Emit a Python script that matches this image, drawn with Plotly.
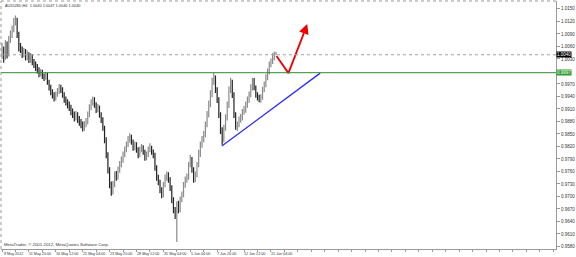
import plotly.graph_objects as go

# ---------------- data (AUDUSD, H4) ----------------
bar_index = list(range(164))

opens = [1.0040, 1.0052, 1.0033, 1.0064, 1.0040, 1.0076, 1.0088, 1.0100, 1.0119, 1.0124,
         1.0088, 1.0057, 1.0052, 1.0040, 1.0047, 1.0033, 1.0040, 1.0028, 1.0035, 1.0023,
         1.0016, 1.0009, 1.0004, 0.9994, 0.9999, 0.9990, 0.9985, 0.9992, 0.9975, 0.9961,
         0.9951, 0.9944, 0.9937, 0.9944, 0.9951, 0.9961, 0.9956, 0.9944, 0.9932, 0.9925,
         0.9920, 0.9913, 0.9903, 0.9896, 0.9889, 0.9896, 0.9884, 0.9879, 0.9872, 0.9865,
         0.9872, 0.9879, 0.9896, 0.9913, 0.9925, 0.9932, 0.9920, 0.9908, 0.9913, 0.9896,
         0.9884, 0.9865, 0.9836, 0.9800, 0.9764, 0.9728, 0.9711, 0.9728, 0.9752, 0.9745,
         0.9764, 0.9776, 0.9788, 0.9800, 0.9812, 0.9824, 0.9836, 0.9841, 0.9831, 0.9817,
         0.9824, 0.9812, 0.9800, 0.9812, 0.9817, 0.9807, 0.9793, 0.9800, 0.9812, 0.9817,
         0.9807, 0.9800, 0.9769, 0.9745, 0.9735, 0.9716, 0.9704, 0.9728, 0.9745, 0.9752,
         0.9740, 0.9721, 0.9692, 0.9668, 0.9656, 0.9680, 0.9668, 0.9692, 0.9704, 0.9728,
         0.9740, 0.9745, 0.9776, 0.9788, 0.9764, 0.9740, 0.9752, 0.9776, 0.9800, 0.9824,
         0.9836, 0.9848, 0.9872, 0.9896, 0.9920, 0.9944, 0.9975, 0.9985, 0.9956, 0.9932,
         0.9896, 0.9860, 0.9836, 0.9865, 0.9889, 0.9920, 0.9956, 0.9975, 0.9944, 0.9896,
         0.9865, 0.9872, 0.9884, 0.9889, 0.9903, 0.9908, 0.9920, 0.9932, 0.9944, 0.9961,
         0.9980, 0.9961, 0.9944, 0.9937, 0.9932, 0.9937, 0.9956, 0.9968, 0.9985, 0.9999,
         1.0016, 1.0023, 1.0033, 1.0040]

highs = [1.0068, 1.0060, 1.0075, 1.0072, 1.0085, 1.0098, 1.0110, 1.0128, 1.0134, 1.0129,
         1.0095, 1.0068, 1.0060, 1.0056, 1.0054, 1.0050, 1.0046, 1.0044, 1.0041, 1.0030,
         1.0024, 1.0018, 1.0010, 1.0006, 1.0004, 0.9995, 0.9998, 0.9996, 0.9980, 0.9968,
         0.9957, 0.9950, 0.9952, 0.9960, 0.9970, 0.9968, 0.9962, 0.9950, 0.9940, 0.9933,
         0.9928, 0.9920, 0.9911, 0.9904, 0.9905, 0.9902, 0.9893, 0.9886, 0.9880, 0.9881,
         0.9888, 0.9904, 0.9921, 0.9933, 0.9940, 0.9938, 0.9926, 0.9922, 0.9918, 0.9902,
         0.9890, 0.9870, 0.9842, 0.9806, 0.9770, 0.9736, 0.9737, 0.9760, 0.9761, 0.9772,
         0.9785, 0.9796, 0.9808, 0.9820, 0.9832, 0.9845, 0.9852, 0.9848, 0.9837, 0.9832,
         0.9830, 0.9818, 0.9820, 0.9826, 0.9823, 0.9812, 0.9808, 0.9820, 0.9828, 0.9822,
         0.9813, 0.9805, 0.9775, 0.9752, 0.9740, 0.9722, 0.9735, 0.9753, 0.9760, 0.9758,
         0.9746, 0.9727, 0.9698, 0.9675, 0.9688, 0.9690, 0.9700, 0.9712, 0.9735, 0.9748,
         0.9755, 0.9783, 0.9800, 0.9795, 0.9770, 0.9760, 0.9783, 0.9812, 0.9832, 0.9845,
         0.9857, 0.9880, 0.9905, 0.9930, 0.9955, 0.9985, 0.9997, 0.9990, 0.9962, 0.9938,
         0.9902, 0.9866, 0.9872, 0.9897, 0.9928, 0.9964, 0.9985, 0.9980, 0.9950, 0.9902,
         0.9880, 0.9892, 0.9898, 0.9910, 0.9917, 0.9928, 0.9940, 0.9952, 0.9969, 0.9985,
         0.9984, 0.9966, 0.9950, 0.9944, 0.9945, 0.9963, 0.9976, 0.9993, 1.0007, 1.0024,
         1.0031, 1.0044, 1.0047, 1.0047]

lows = [1.0030, 1.0021, 1.0028, 1.0031, 1.0036, 1.0068, 1.0080, 1.0094, 1.0110, 1.0080,
        1.0048, 1.0044, 1.0032, 1.0034, 1.0026, 1.0027, 1.0020, 1.0021, 1.0015, 1.0008,
        1.0001, 0.9995, 0.9986, 0.9988, 0.9982, 0.9977, 0.9980, 0.9968, 0.9954, 0.9943,
        0.9935, 0.9928, 0.9930, 0.9939, 0.9946, 0.9948, 0.9937, 0.9925, 0.9918, 0.9911,
        0.9905, 0.9895, 0.9888, 0.9880, 0.9882, 0.9876, 0.9870, 0.9864, 0.9856, 0.9858,
        0.9866, 0.9873, 0.9890, 0.9907, 0.9918, 0.9913, 0.9900, 0.9902, 0.9889, 0.9876,
        0.9858, 0.9828, 0.9792, 0.9755, 0.9720, 0.9702, 0.9705, 0.9722, 0.9738, 0.9740,
        0.9757, 0.9770, 0.9781, 0.9794, 0.9806, 0.9818, 0.9829, 0.9824, 0.9810, 0.9811,
        0.9805, 0.9792, 0.9794, 0.9806, 0.9800, 0.9786, 0.9787, 0.9795, 0.9806, 0.9800,
        0.9792, 0.9762, 0.9738, 0.9727, 0.9708, 0.9696, 0.9698, 0.9722, 0.9738, 0.9733,
        0.9713, 0.9684, 0.9660, 0.9646, 0.9591, 0.9660, 0.9662, 0.9686, 0.9698, 0.9721,
        0.9733, 0.9740, 0.9770, 0.9757, 0.9733, 0.9735, 0.9746, 0.9770, 0.9795, 0.9817,
        0.9830, 0.9842, 0.9866, 0.9890, 0.9914, 0.9938, 0.9968, 0.9948, 0.9924, 0.9888,
        0.9850, 0.9824, 0.9830, 0.9858, 0.9882, 0.9912, 0.9948, 0.9936, 0.9888, 0.9860,
        0.9857, 0.9866, 0.9877, 0.9882, 0.9896, 0.9901, 0.9913, 0.9925, 0.9938, 0.9954,
        0.9955, 0.9937, 0.9930, 0.9926, 0.9925, 0.9932, 0.9950, 0.9962, 0.9979, 0.9993,
        1.0010, 1.0018, 1.0027, 1.0040]

closes = opens[1:] + [1.0040]

price_ticks = [1.0150, 1.0120, 1.0090, 1.0060, 1.0030, 0.9970, 0.9940, 0.9910, 0.9880,
               0.9850, 0.9820, 0.9790, 0.9760, 0.9730, 0.9700, 0.9670, 0.9640, 0.9610, 0.9580]
price_tick_labels = ["%.4f" % v for v in price_ticks]

time_label_index = [0, 15, 31, 47, 63, 79, 95, 111, 127, 143, 159]
time_labels = ["9 May 2012", "11 May 20:00", "16 May 12:00", "21 May 04:00", "23 May 20:00",
               "28 May 12:00", "31 May 04:00", "5 Jun 04:00", "7 Jun 20:00", "12 Jun 12:00",
               "15 Jun 04:00"]

symbol_title = "AUDUSD,H4  1.0040 1.0047 1.0040 1.0040"
copyright_text = "MetaTrader, © 2001-2012, MetaQuotes Software Corp."
bid_price = 1.0040
level_price = 0.9997

# trend line and forecast arrow (drawn objects)
trend_x = [130.8, 189.3]
trend_y = [0.9821, 0.9996]
arrow_x = [163.3, 170.4, 179.6]
arrow_y = [1.0037, 0.9996, 1.0092]
arrow_tip = (181.6, 1.0114)

FONT = "Liberation Sans"
fig = go.Figure()

fig.add_trace(go.Ohlc(
    x=bar_index, open=opens, high=highs, low=lows, close=closes,
    increasing=dict(line=dict(color="#8a8a8a", width=1.2)),
    decreasing=dict(line=dict(color="#222222", width=1.2)),
    tickwidth=0.3, hoverinfo="skip", showlegend=False))

fig.add_trace(go.Scatter(x=trend_x, y=trend_y, mode="lines",
                         line=dict(color="#2a2aff", width=1.3),
                         hoverinfo="skip", showlegend=False))
fig.add_trace(go.Scatter(x=arrow_x, y=arrow_y, mode="lines",
                         line=dict(color="#ee0000", width=1.8),
                         hoverinfo="skip", showlegend=False))

shapes = [
    dict(type="line", xref="paper", yref="y", x0=0, x1=1, y0=bid_price, y1=bid_price,
         line=dict(color="#a0a0a0", width=1, dash="dot")),
    dict(type="line", xref="paper", yref="y", x0=0, x1=1, y0=level_price, y1=level_price,
         line=dict(color="#2e8b2e", width=1)),
    dict(type="line", xref="paper", yref="paper", x0=0, x1=1, y0=1, y1=1,
         line=dict(color="#9a9a9a", width=1, dash="dot")),
    dict(type="line", xref="paper", yref="paper", x0=0, x1=0, y0=0, y1=1,
         line=dict(color="#9a9a9a", width=1, dash="dot")),
]

annotations = [
    dict(x=arrow_tip[0], y=arrow_tip[1], ax=arrow_x[-1], ay=arrow_y[-1],
         xref="x", yref="y", axref="x", ayref="y", text="", showarrow=True,
         arrowhead=2, arrowsize=1.1, arrowwidth=1.8, arrowcolor="#ee0000"),
    dict(x=0.004, y=0.998, xref="paper", yref="paper", xanchor="left", yanchor="top",
         text=symbol_title, showarrow=False, font=dict(family=FONT, size=3.9, color="#333")),
    dict(x=0.002, y=0.0, xref="paper", yref="paper", xanchor="left", yanchor="bottom",
         text=copyright_text, showarrow=False, font=dict(family=FONT, size=4.3, color="#333")),
    dict(x=1.0, y=bid_price, xref="paper", yref="y", xanchor="left", yanchor="middle",
         text=f"{bid_price:.4f}", showarrow=False, bgcolor="#000000", borderpad=0,
         font=dict(family=FONT, size=4.5, color="#ffffff")),
    dict(x=1.0, y=level_price, xref="paper", yref="y", xanchor="left", yanchor="middle",
         text=f"{level_price:.4f}", showarrow=False, bgcolor="#2e9b2e", borderpad=0,
         font=dict(family=FONT, size=4.5, color="#ffffff")),
]
for xi, lab in zip(time_label_index, time_labels):
    annotations.append(dict(x=xi, y=0, xref="x", yref="paper", xanchor="left", yanchor="top",
                            yshift=-1, text=lab, showarrow=False,
                            font=dict(family=FONT, size=3.7, color="#333")))

fig.update_layout(
    width=576, height=257,
    margin=dict(l=1, r=17, t=1, b=8),
    paper_bgcolor="white", plot_bgcolor="white",
    shapes=shapes, annotations=annotations,
    xaxis=dict(range=[-0.6, 329.6], rangeslider=dict(visible=False), showgrid=False,
               zeroline=False, showticklabels=False, showline=True, linecolor="#9a9a9a",
               linewidth=1, ticks="outside", ticklen=2, tickcolor="#9a9a9a", dtick=8, tick0=0),
    yaxis=dict(range=[0.9574, 1.0169], side="right", showgrid=False, zeroline=False,
               tickvals=price_ticks, ticktext=price_tick_labels, ticks="outside", ticklen=3,
               tickcolor="#9a9a9a", showline=True, linecolor="#9a9a9a", linewidth=1,
               tickfont=dict(family=FONT, size=4.5, color="#333")),
    font=dict(family=FONT),
)

fig.write_html("out.html", config={"displayModeBar": False})
